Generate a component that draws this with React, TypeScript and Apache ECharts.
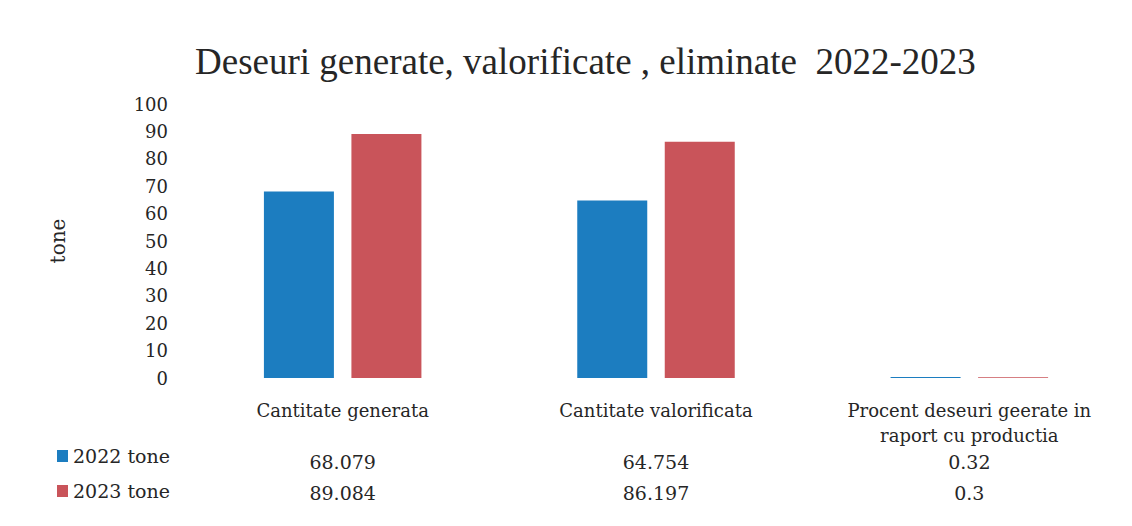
import React, { useEffect, useRef } from "react";
import * as echarts from "echarts";

const categories = [
  "Cantitate generata",
  "Cantitate valorificata",
  "Procent deseuri geerate in\nraport cu productia",
];
const seriesNames = ["2022 tone", "2023 tone"];
const values2022 = [68.079, 64.754, 0.32];
const values2023 = [89.084, 86.197, 0.3];
const yTicks = { min: 0, max: 100, interval: 10 };
const titleText = "Deseuri generate, valorificate , eliminate  2022-2023";
const yName = "tone";

const BLUE = "#1c7dc0";
const RED = "#c9545a";
const TEXT = "#262626";
const SERIF = "DejaVu Serif";

export default function App() {
  const ref = useRef<HTMLDivElement>(null);
  useEffect(() => {
    if (!ref.current) return;
    const chart = echarts.init(ref.current, undefined, { renderer: "svg" });
    const valueAxis = (data: number[], offset: number) => ({
      type: "category",
      gridIndex: 0,
      position: "bottom",
      offset,
      data: data.map((v) => String(v)),
      axisLine: { show: false },
      axisTick: { show: false },
      splitLine: { show: false },
      axisLabel: {
        show: true,
        interval: 0,
        margin: 0,
        color: TEXT,
        fontFamily: SERIF,
        fontSize: 19,
        lineHeight: 20,
      },
    });
    chart.setOption({
      animation: false,
      backgroundColor: "#ffffff",
      title: {
        text: titleText,
        left: 190,
        top: 38,
        textStyle: {
          fontFamily: "Liberation Serif",
          fontSize: 37,
          fontWeight: "normal",
          color: TEXT,
        },
      },
      legend: {
        orient: "vertical",
        left: 52,
        top: 441,
        itemWidth: 11,
        itemHeight: 12,
        itemGap: 15,
        icon: "rect",
        data: seriesNames,
        textStyle: {
          fontFamily: SERIF,
          fontSize: 19,
          lineHeight: 20,
          color: TEXT,
        },
      },
      grid: { left: 186, right: 6, top: 104, bottom: 148 },
      xAxis: [
        {
          type: "category",
          data: categories,
          axisLine: { show: false },
          axisTick: { show: false },
          splitLine: { show: false },
          axisLabel: {
            interval: 0,
            margin: 20,
            color: TEXT,
            fontFamily: SERIF,
            fontSize: 18,
            lineHeight: 25,
          },
        },
        valueAxis(values2022, 74),
        valueAxis(values2023, 105),
      ],
      yAxis: {
        type: "value",
        min: yTicks.min,
        max: yTicks.max,
        interval: yTicks.interval,
        name: yName,
        nameLocation: "middle",
        nameGap: 118,
        nameRotate: 90,
        nameTextStyle: { fontFamily: SERIF, fontSize: 20, color: TEXT },
        axisLine: { show: false },
        axisTick: { show: false },
        splitLine: { show: false },
        axisLabel: {
          margin: 18,
          color: TEXT,
          fontFamily: SERIF,
          fontSize: 18,
        },
      },
      series: [
        {
          name: seriesNames[0],
          type: "bar",
          data: values2022,
          barWidth: 70,
          barGap: "25%",
          itemStyle: { color: BLUE },
        },
        {
          name: seriesNames[1],
          type: "bar",
          data: values2023,
          barWidth: 70,
          itemStyle: { color: RED },
        },
      ],
    });
    return () => chart.dispose();
  }, []);
  return (
    <div
      ref={ref}
      style={{ position: "fixed", left: 0, top: 0, width: 1132, height: 526 }}
    />
  );
}
